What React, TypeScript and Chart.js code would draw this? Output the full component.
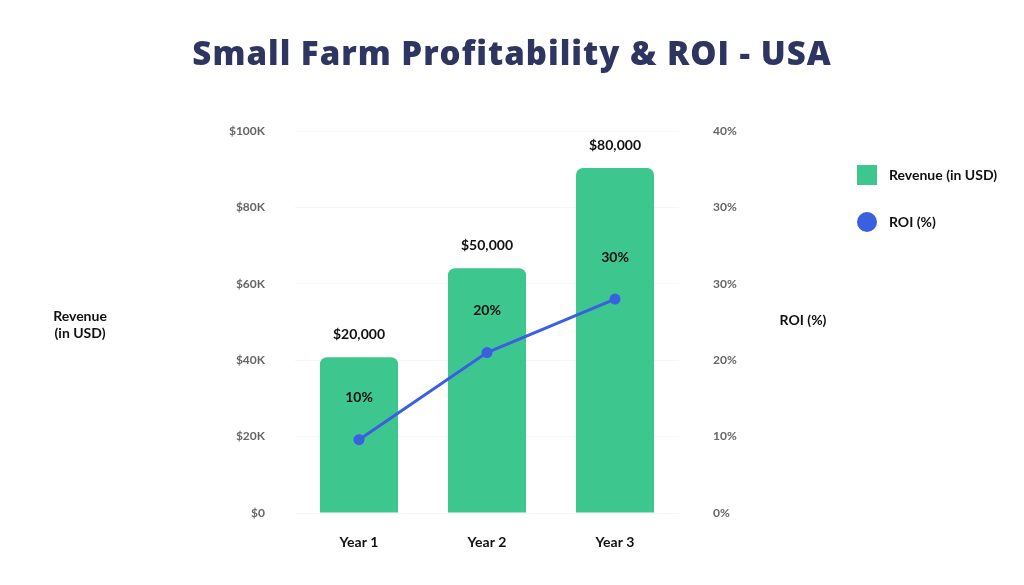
import { useEffect, useRef } from "react"
import { Chart, type ChartConfiguration, type Plugin, registerables } from "chart.js"

Chart.register(...registerables)

const years = ["Year 1", "Year 2", "Year 3"]
const revenue = [40800, 64100, 90300]
const revenueLabels = ["$20,000", "$50,000", "$80,000"]
const roi = [9.6, 21, 28]
const roiLabels = ["10%", "20%", "30%"]
const revenueTicks = ["$0", "$20K", "$40K", "$60K", "$80K", "$100K"]
const roiTicks = ["0%", "10%", "20%", "30%", "30%", "40%"]

const GREEN = "#3ec68f"
const BLUE = "#3a5fe0"
const FONT = "Lato, 'Open Sans', sans-serif"

// title, axis titles, legend and value labels drawn on the canvas
const decorations: Plugin = {
  id: "decorations",
  afterDatasetsDraw(chart) {
    const ctx = chart.ctx as any
    ctx.save()

    ctx.textAlign = "center"
    ctx.textBaseline = "middle"
    ctx.fillStyle = "#2e3560"
    ctx.font = `800 33px 'Open Sans', sans-serif`
    ctx.letterSpacing = "1px"
    ctx.fillText("Small Farm Profitability & ROI - USA", 512, 56)
    ctx.letterSpacing = "0px"

    ctx.fillStyle = "#111"
    ctx.font = `bold 14px ${FONT}`
    ctx.fillText("Revenue", 80, 316)
    ctx.fillText("(in USD)", 80, 333)
    ctx.fillText("ROI (%)", 803, 320)

    const bars = chart.getDatasetMeta(0).data
    bars.forEach((bar, i) => {
      ctx.fillText(revenueLabels[i], bar.x, bar.y - 23)
    })
    const points = chart.getDatasetMeta(1).data
    points.forEach((pt, i) => {
      ctx.fillText(roiLabels[i], pt.x, pt.y - 42)
    })

    // legend
    ctx.fillStyle = GREEN
    ctx.fillRect(857, 165, 20, 20)
    ctx.fillStyle = BLUE
    ctx.beginPath()
    ctx.arc(867, 222, 10, 0, Math.PI * 2)
    ctx.fill()
    ctx.fillStyle = "#111"
    ctx.textAlign = "left"
    ctx.fillText("Revenue (in USD)", 889, 175)
    ctx.fillText("ROI (%)", 889, 222)

    ctx.restore()
  },
}

export default function App() {
  const chartRef = useRef<HTMLCanvasElement>(null)
  const chartInstance = useRef<Chart | null>(null)

  useEffect(() => {
    if (!chartRef.current) return
    const ctx = chartRef.current.getContext("2d")
    if (!ctx) return

    if (chartInstance.current) {
      chartInstance.current.destroy()
    }

    const config: ChartConfiguration = {
      type: "bar",
      data: {
        labels: years,
        datasets: [
          {
            type: "bar",
            label: "Revenue (in USD)",
            data: revenue,
            backgroundColor: GREEN,
            borderRadius: { topLeft: 7, topRight: 7 },
            borderSkipped: "bottom",
            barPercentage: 0.61,
            categoryPercentage: 1,
            yAxisID: "y",
            order: 1,
          },
          {
            type: "line",
            label: "ROI (%)",
            data: roi,
            borderColor: BLUE,
            backgroundColor: BLUE,
            borderWidth: 3,
            pointRadius: 5.5,
            pointBackgroundColor: BLUE,
            pointBorderWidth: 0,
            yAxisID: "y1",
            order: 0,
          } as any,
        ],
      },
      options: {
        responsive: true,
        maintainAspectRatio: false,
        animation: false,
        layout: { padding: { top: 131, left: 0, right: 0, bottom: 0 } },
        scales: {
          x: {
            grid: { display: false },
            border: { display: false },
            ticks: {
              color: "#111",
              padding: 13,
              font: { family: FONT, size: 14, weight: "bold" },
            },
            afterFit: (scale: any) => {
              scale.height = 72
            },
          },
          y: {
            position: "left",
            min: 0,
            max: 100000,
            grid: { color: "rgba(0,0,0,0.035)", drawTicks: false },
            border: { display: false },
            ticks: {
              stepSize: 20000,
              padding: 30,
              color: "#666",
              font: { family: FONT, size: 12, weight: "bold" },
              callback: (_v: any, i: number) => revenueTicks[i],
            },
            afterFit: (scale: any) => {
              scale.width = 295
            },
          },
          y1: {
            position: "right",
            min: 0,
            max: 50,
            grid: { display: false, drawTicks: false },
            border: { display: false },
            ticks: {
              stepSize: 10,
              padding: 34,
              color: "#666",
              font: { family: FONT, size: 12, weight: "bold" },
              callback: (_v: any, i: number) => roiTicks[i],
            },
            afterFit: (scale: any) => {
              scale.width = 345
            },
          },
        },
        plugins: {
          legend: { display: false },
          tooltip: { enabled: false },
        },
      },
      plugins: [decorations],
    }

    chartInstance.current = new Chart(ctx, config)

    return () => {
      if (chartInstance.current) {
        chartInstance.current.destroy()
        chartInstance.current = null
      }
    }
  }, [])

  return (
    <div style={{ position: "fixed", top: 0, left: 0, width: 1024, height: 585, background: "#fff" }}>
      <canvas ref={chartRef} />
    </div>
  )
}
